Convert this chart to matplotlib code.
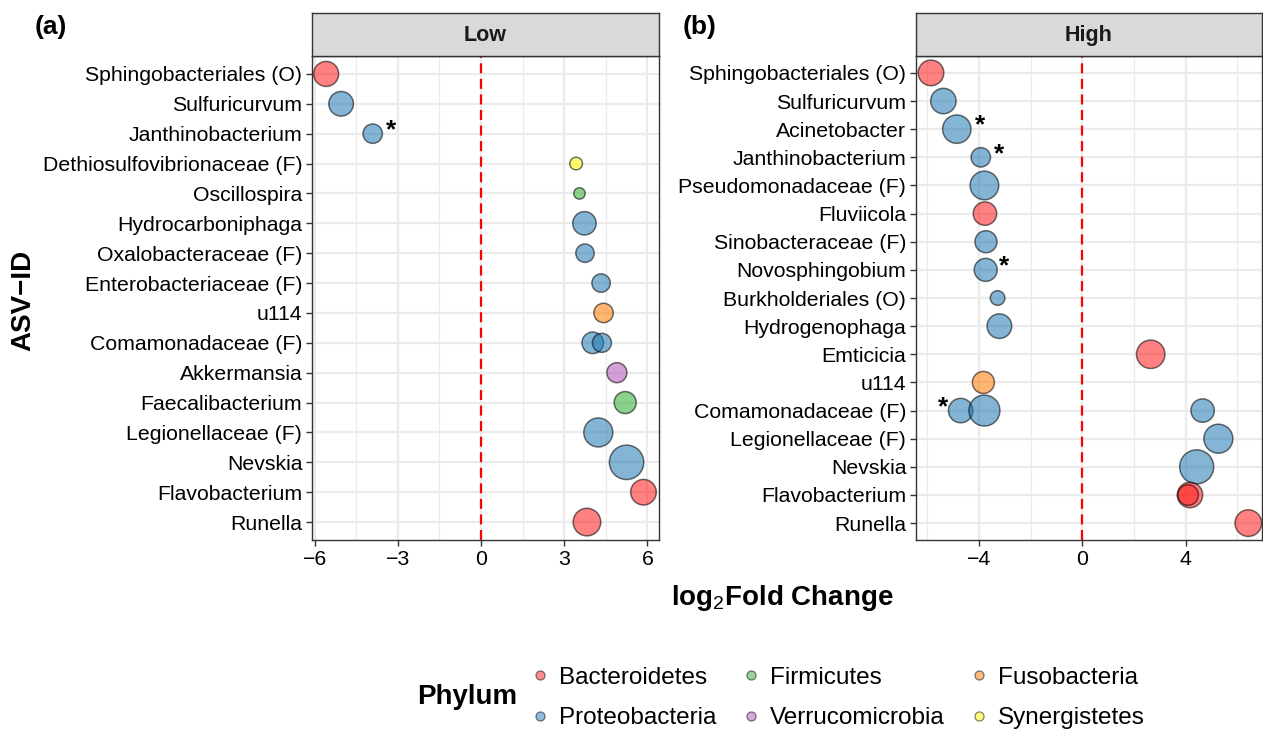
import matplotlib
matplotlib.use("Agg")
import matplotlib.pyplot as plt
from matplotlib.lines import Line2D

plt.rcParams["font.family"] = ["Liberation Sans", "DejaVu Sans"]
plt.rcParams["mathtext.fontset"] = "custom"
plt.rcParams["mathtext.rm"] = "Liberation Sans"
plt.rcParams["mathtext.bf"] = "Liberation Sans:bold"

# ---- data ----
PHYLA = ["Bacteroidetes", "Proteobacteria", "Firmicutes",
         "Verrucomicrobia", "Fusobacteria", "Synergistetes"]
PHYLUM_COLORS = {
    "Bacteroidetes": "#FF1A1A",
    "Proteobacteria": "#1F78B4",
    "Firmicutes": "#2EAD2E",
    "Verrucomicrobia": "#B452B4",
    "Fusobacteria": "#FF7A00",
    "Synergistetes": "#FFFF00",
}

low_labels = ["Sphingobacteriales (O)", "Sulfuricurvum", "Janthinobacterium",
              "Dethiosulfovibrionaceae (F)", "Oscillospira", "Hydrocarboniphaga",
              "Oxalobacteraceae (F)", "Enterobacteriaceae (F)", "u114",
              "Comamonadaceae (F)", "Akkermansia", "Faecalibacterium",
              "Legionellaceae (F)", "Nevskia", "Flavobacterium", "Runella"]
low_taxon = ["Sphingobacteriales (O)", "Sulfuricurvum", "Janthinobacterium",
             "Dethiosulfovibrionaceae (F)", "Oscillospira", "Hydrocarboniphaga",
             "Oxalobacteraceae (F)", "Enterobacteriaceae (F)", "u114",
             "Comamonadaceae (F)", "Comamonadaceae (F)", "Akkermansia",
             "Faecalibacterium", "Legionellaceae (F)", "Nevskia",
             "Flavobacterium", "Runella"]
low_lfc = [-5.59, -5.05, -3.91, 3.43, 3.55, 3.73, 3.75, 4.33, 4.42,
           4.03, 4.36, 4.90, 5.20, 4.23, 5.25, 5.86, 3.82]
low_phylum = ["Bacteroidetes", "Proteobacteria", "Proteobacteria",
              "Synergistetes", "Firmicutes", "Proteobacteria", "Proteobacteria",
              "Proteobacteria", "Fusobacteria", "Proteobacteria", "Proteobacteria",
              "Verrucomicrobia", "Firmicutes", "Proteobacteria", "Proteobacteria",
              "Bacteroidetes", "Bacteroidetes"]
low_abund = [12.5, 12.3, 9.7, 6.3, 5.7, 11.7, 9.2, 9.2, 9.7,
             10.8, 9.5, 10.0, 11.0, 14.5, 17.2, 12.8, 13.8]
low_star_taxon = ["Janthinobacterium"]
low_star_x = [-3.23]

high_labels = ["Sphingobacteriales (O)", "Sulfuricurvum", "Acinetobacter",
               "Janthinobacterium", "Pseudomonadaceae (F)", "Fluviicola",
               "Sinobacteraceae (F)", "Novosphingobium", "Burkholderiales (O)",
               "Hydrogenophaga", "Emticicia", "u114", "Comamonadaceae (F)",
               "Legionellaceae (F)", "Nevskia", "Flavobacterium", "Runella"]
high_taxon = ["Sphingobacteriales (O)", "Sulfuricurvum", "Acinetobacter",
              "Janthinobacterium", "Pseudomonadaceae (F)", "Fluviicola",
              "Sinobacteraceae (F)", "Novosphingobium", "Burkholderiales (O)",
              "Hydrogenophaga", "Emticicia", "u114", "Comamonadaceae (F)",
              "Comamonadaceae (F)", "Comamonadaceae (F)", "Legionellaceae (F)",
              "Nevskia", "Flavobacterium", "Flavobacterium", "Runella"]
high_lfc = [-5.86, -5.38, -4.86, -3.93, -3.79, -3.77, -3.73, -3.74, -3.28,
            -3.21, 2.65, -3.83, -4.71, -3.79, 4.66, 5.27, 4.43, 4.17, 4.10, 6.43]
high_phylum = ["Bacteroidetes", "Proteobacteria", "Proteobacteria",
               "Proteobacteria", "Proteobacteria", "Bacteroidetes",
               "Proteobacteria", "Proteobacteria", "Proteobacteria",
               "Proteobacteria", "Bacteroidetes", "Fusobacteria",
               "Proteobacteria", "Proteobacteria", "Proteobacteria",
               "Proteobacteria", "Proteobacteria", "Bacteroidetes",
               "Bacteroidetes", "Bacteroidetes"]
high_abund = [12.8, 12.7, 14.2, 9.7, 14.3, 11.7, 11.0, 11.5, 7.3, 12.3,
              14.2, 11.0, 12.2, 15.5, 11.7, 14.5, 17.0, 12.7, 10.3, 13.3]
high_star_taxon = ["Acinetobacter", "Janthinobacterium", "Novosphingobium",
                   "Comamonadaceae (F)"]
high_star_x = [-3.96, -3.22, -3.02, -5.40]

W, H = 1263, 733
fig = plt.figure(figsize=(W / 100, H / 100), dpi=100)

EDGE = "#333333"
GRID = "#EBEBEB"


def px(x0, y0, w, h):
    return [x0 / W, 1 - (y0 + h) / H, w / W, h / H]


def draw_panel(rect, title, labels, taxon, lfc, phylum, abund,
               star_taxon, star_x, xlim, major, minor):
    ax = fig.add_axes(px(*rect))
    rows = [labels.index(t) for t in taxon]
    sizes = [(1.44 * a) ** 2 for a in abund]
    colors = [PHYLUM_COLORS[p] for p in phylum]
    ax.scatter(lfc, rows, s=sizes, c=colors, edgecolors="black",
               linewidths=1.1, alpha=0.55, zorder=3)
    for t, sx in zip(star_taxon, star_x):
        ax.text(sx, labels.index(t) - 0.12, "*", fontsize=19,
                fontweight="bold", ha="center", va="center", zorder=4)
    ax.axvline(0, color="red", lw=1.6, ls=(0, (4.5, 2.5)), zorder=2)

    ax.set_xlim(*xlim)
    ax.set_ylim(len(labels) - 0.4, -0.6)
    ax.set_yticks(range(len(labels)), labels)
    ax.set_xticks(major)
    ax.set_xticks(minor, minor=True)
    ax.grid(which="major", color=GRID, lw=1.6, zorder=0)
    ax.grid(which="minor", axis="x", color=GRID, lw=0.9, zorder=0)
    ax.set_axisbelow(True)
    ax.tick_params(which="major", length=4, width=1.0, color=EDGE,
                   labelsize=15.3, labelcolor="black", pad=3)
    ax.tick_params(which="minor", length=0)
    for sp in ax.spines.values():
        sp.set_color(EDGE)
        sp.set_linewidth(1.0)

    x0, y0, w, h = rect
    strip = fig.add_axes(px(x0, y0 - 43, w, 43))
    strip.set_facecolor("#D9D9D9")
    strip.set_xticks([])
    strip.set_yticks([])
    for sp in strip.spines.values():
        sp.set_color(EDGE)
        sp.set_linewidth(1.0)
    strip.text(0.5, 0.47, title, transform=strip.transAxes, ha="center",
               va="center", fontsize=15.5, fontweight="bold", color="#1A1A1A")
    return ax


draw_panel((312, 56, 347, 484), "Low", low_labels, low_taxon, low_lfc,
           low_phylum, low_abund, low_star_taxon, low_star_x,
           (-6.1, 6.42), [-6, -3, 0, 3, 6], [-4.5, -1.5, 1.5, 4.5])
draw_panel((916, 56, 346, 484), "High", high_labels, high_taxon, high_lfc,
           high_phylum, high_abund, high_star_taxon, high_star_x,
           (-6.44, 6.96), [-4, 0, 4], [-6, -2, 2, 6])

fig.text(51 / W, 1 - 27 / H, "(a)", fontsize=19, fontweight="bold",
         ha="center", va="center")
fig.text(700 / W, 1 - 27 / H, "(b)", fontsize=19, fontweight="bold",
         ha="center", va="center")
fig.text(23 / W, 1 - 300 / H, "ASV\u2212ID", fontsize=20, fontweight="bold",
         rotation=90, ha="center", va="center")
fig.text(782 / W, 1 - 598 / H, "log$_2$Fold Change", fontsize=20,
         fontweight="bold", ha="center", va="center")

handles = [Line2D([], [], ls="none", marker="o", markersize=6.5,
                  markerfacecolor=PHYLUM_COLORS[p], markeredgecolor="black",
                  markeredgewidth=0.9, alpha=0.5) for p in PHYLA]
fig.legend(handles, PHYLA, loc="center left", ncol=3,
           bbox_to_anchor=(530 / W, 1 - 698 / H), frameon=False,
           fontsize=17.5, handlelength=0.8, handletextpad=0.4,
           columnspacing=1.0, labelspacing=0.75, borderpad=0,
           borderaxespad=0)
fig.text(467 / W, 1 - 697 / H, "Phylum", fontsize=20, fontweight="bold",
         ha="center", va="center")

fig.savefig("out.png", dpi=100)
